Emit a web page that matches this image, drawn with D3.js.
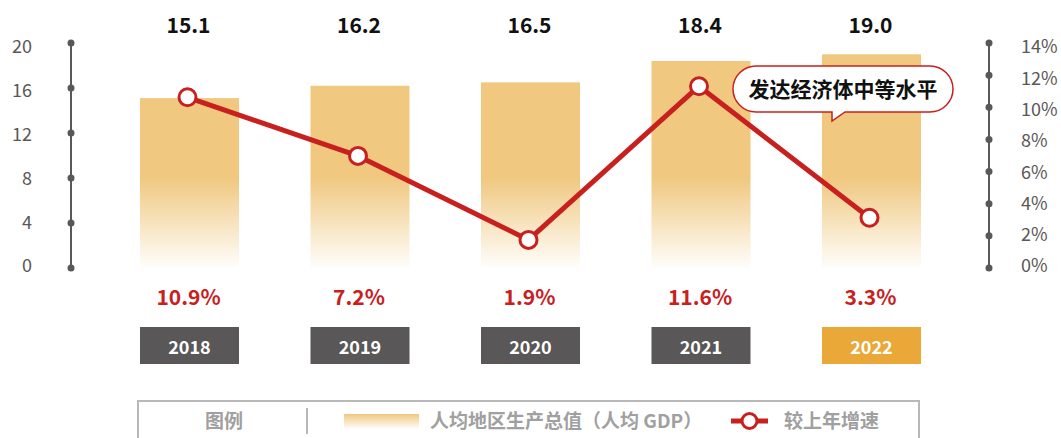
<!DOCTYPE html>
<html>
<head>
<meta charset="utf-8">
<script src="https://cdn.jsdelivr.net/npm/d3@7/dist/d3.min.js"></script>
<style>
  html, body { margin: 0; padding: 0; background: #fff; }
  svg { display: block; font-family: "Noto Sans CJK SC", "Noto Sans", sans-serif; }
</style>
</head>
<body>
<svg id="chart" width="1061" height="438"></svg>
<script>
const years = ["2018", "2019", "2020", "2021", "2022"];
const gdpValues = [15.1, 16.2, 16.5, 18.4, 19.0];
const growthRates = [10.9, 7.2, 1.9, 11.6, 3.3];
const leftTicks = [0, 4, 8, 12, 16, 20];
const rightTicks = [0, 2, 4, 6, 8, 10, 12, 14];
const legendLabels = ["图例", "人均地区生产总值（人均 GDP）", "较上年增速"];
const calloutText = "发达经济体中等水平";

const svg = d3.select("#chart");
const red = "#C8201E", gray = "#595757", gold = "#F0C880";

const x = d3.scalePoint().domain(years).range([189.5, 871.5]);
const yL = d3.scaleLinear().domain([0, 20]).range([268, 43]);
const yR = d3.scaleLinear().domain([0, 14]).range([268, 43]);
const yLLab = d3.scaleLinear().domain([0, 20]).range([266, 46.5]);
const yRLab = d3.scaleLinear().domain([0, 14]).range([266, 47]);
const yLine = d3.scaleLinear().domain([0, 14.2]).range([270, 45]);
const barW = 99;

const defs = svg.append("defs");
const g1 = defs.append("linearGradient").attr("id", "barGrad")
  .attr("gradientUnits", "userSpaceOnUse").attr("x1", 0).attr("x2", 0).attr("y1", 178).attr("y2", 270);
g1.append("stop").attr("offset", "0%").attr("stop-color", gold);
g1.append("stop").attr("offset", "100%").attr("stop-color", "#FFFFFF");
const g2 = defs.append("linearGradient").attr("id", "legGrad")
  .attr("x1", 0).attr("x2", 0).attr("y1", 0).attr("y2", 1);
g2.append("stop").attr("offset", "0%").attr("stop-color", gold);
g2.append("stop").attr("offset", "100%").attr("stop-color", "#FFFFFF");

// Bars
svg.append("g").selectAll("rect").data(years).join("rect")
  .attr("x", d => x(d) - barW / 2)
  .attr("y", (d, i) => yL(gdpValues[i]))
  .attr("width", barW)
  .attr("height", (d, i) => yL(0) - yL(gdpValues[i]))
  .attr("fill", "url(#barGrad)");

// Left axis
const axL = svg.append("g");
axL.append("line").attr("x1", 71).attr("x2", 71).attr("y1", yL(20)).attr("y2", yL(0))
  .attr("stroke", gray).attr("stroke-width", 2);
axL.selectAll("circle").data(leftTicks).join("circle")
  .attr("cx", 71).attr("cy", d => yL(d)).attr("r", 3.5).attr("fill", gray);
axL.selectAll("text").data(leftTicks).join("text")
  .attr("x", 32).attr("y", d => yLLab(d)).attr("dy", "0.36em")
  .attr("text-anchor", "end").attr("font-size", 18).attr("fill", gray).text(d => d);

// Right axis
const axR = svg.append("g");
axR.append("line").attr("x1", 989).attr("x2", 989).attr("y1", yR(14)).attr("y2", yR(0))
  .attr("stroke", gray).attr("stroke-width", 2);
axR.selectAll("circle").data(rightTicks).join("circle")
  .attr("cx", 989).attr("cy", d => yR(d)).attr("r", 3.5).attr("fill", gray);
axR.selectAll("text").data(rightTicks).join("text")
  .attr("x", 1021).attr("y", d => yRLab(d)).attr("dy", "0.36em")
  .attr("text-anchor", "start").attr("font-size", 18).attr("fill", gray).text(d => d + "%");

// Value labels on top
svg.append("g").selectAll("text").data(years).join("text")
  .attr("x", d => x(d) - 1).attr("y", 33)
  .attr("text-anchor", "middle").attr("font-size", 21).attr("font-weight", "bold")
  .attr("fill", "#111").text((d, i) => gdpValues[i].toFixed(1));

// Line
const linePts = years.map((d, i) => [x(d) - 2, yLine(growthRates[i])]);
svg.append("path").attr("d", d3.line()(linePts))
  .attr("fill", "none").attr("stroke", red).attr("stroke-width", 5).attr("stroke-linejoin", "round");
svg.append("g").selectAll("circle").data(linePts).join("circle")
  .attr("cx", d => d[0]).attr("cy", d => d[1]).attr("r", 8.5)
  .attr("fill", "#fff").attr("stroke", red).attr("stroke-width", 3);

// Growth labels
svg.append("g").selectAll("text").data(years).join("text")
  .attr("x", d => x(d) - 1).attr("y", 305)
  .attr("text-anchor", "middle").attr("font-size", 21).attr("font-weight", "bold")
  .attr("fill", red).text((d, i) => growthRates[i].toFixed(1) + "%");

// Year boxes
const yb = svg.append("g");
yb.selectAll("rect").data(years).join("rect")
  .attr("x", d => x(d) - barW / 2).attr("y", 327).attr("width", barW).attr("height", 37)
  .attr("fill", (d, i) => i === years.length - 1 ? "#E9A838" : gray);
yb.selectAll("text").data(years).join("text")
  .attr("x", d => x(d)).attr("y", 353.5)
  .attr("text-anchor", "middle").attr("font-size", 18).attr("font-weight", "bold")
  .attr("fill", "#fff").text(d => d);

// Callout
const cx0 = 733, cy0 = 66, cw = 220, ch = 46, r = 23;
const tailX = 832, tailTip = 121;
const p = d3.path();
p.moveTo(cx0 + r, cy0);
p.lineTo(cx0 + cw - r, cy0);
p.arc(cx0 + cw - r, cy0 + r, r, -Math.PI / 2, Math.PI / 2);
p.lineTo(tailX + 13, cy0 + ch);
p.lineTo(tailX, tailTip);
p.lineTo(tailX, cy0 + ch);
p.lineTo(cx0 + r, cy0 + ch);
p.arc(cx0 + r, cy0 + r, r, Math.PI / 2, Math.PI * 1.5);
p.closePath();
svg.append("path").attr("d", p.toString()).attr("fill", "#fff").attr("stroke", red).attr("stroke-width", 1.5);
svg.append("text").attr("x", cx0 + cw / 2).attr("y", cy0 + 31)
  .attr("text-anchor", "middle").attr("font-size", 21).attr("font-weight", "bold")
  .attr("fill", "#111").text(calloutText);

// Legend
const lg = svg.append("g");
lg.append("rect").attr("x", 138).attr("y", 401).attr("width", 781).attr("height", 50)
  .attr("fill", "none").attr("stroke", "#B8B8B8").attr("stroke-width", 2);
lg.append("text").attr("x", 224).attr("y", 428).attr("text-anchor", "middle")
  .attr("font-size", 19).attr("font-weight", "bold").attr("fill", "#A0A0A0").text(legendLabels[0]);
lg.append("line").attr("x1", 307).attr("x2", 307).attr("y1", 408).attr("y2", 434)
  .attr("stroke", "#B8B8B8").attr("stroke-width", 2);
lg.append("rect").attr("x", 344).attr("y", 414).attr("width", 75).attr("height", 15).attr("fill", "url(#legGrad)");
lg.append("text").attr("x", 430).attr("y", 428).attr("font-size", 19).attr("font-weight", "bold")
  .attr("fill", "#A0A0A0").text(legendLabels[1]);
lg.append("line").attr("x1", 731).attr("x2", 768).attr("y1", 421).attr("y2", 421)
  .attr("stroke", red).attr("stroke-width", 5);
lg.append("circle").attr("cx", 749.5).attr("cy", 421).attr("r", 7.5)
  .attr("fill", "#fff").attr("stroke", red).attr("stroke-width", 3);
lg.append("text").attr("x", 784).attr("y", 428).attr("font-size", 19).attr("font-weight", "bold")
  .attr("fill", "#A0A0A0").text(legendLabels[2]);
</script>
</body>
</html>
